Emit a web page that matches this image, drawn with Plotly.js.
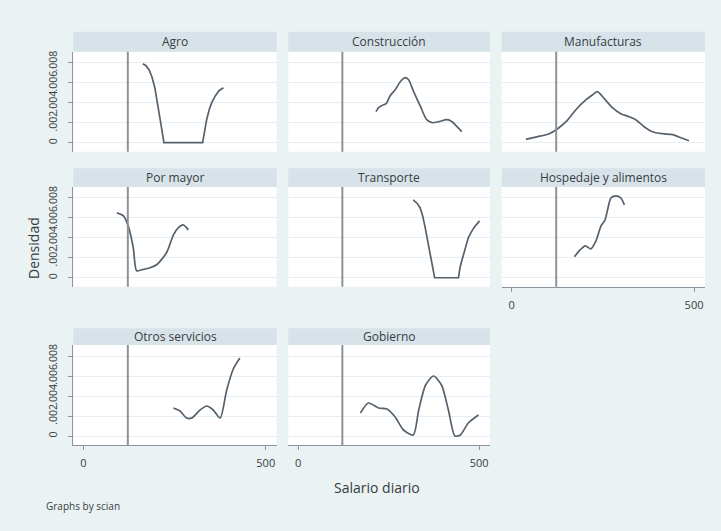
<!DOCTYPE html>
<html><head><meta charset="utf-8">
<script src="https://cdn.plot.ly/plotly-3.0.1.min.js"></script>
<style>html,body{margin:0;padding:0;background:#eaf2f3}</style>
</head><body><div id="chart" style="width:721px;height:531px"></div>
<script>
// ---- data ----
const sectors = ['Agro','Construcción','Manufacturas','Por mayor','Transporte','Hospedaje y alimentos','Otros servicios','Gobierno'];

const agroX = [163,172,180,188,196,205,213,220,221,327,331,338,345,352,362,372,384];
const agroY = [0.0079,0.0077,0.0073,0.0066,0.0055,0.0037,0.0018,0.0002,0,0,0.0009,0.0023,0.0033,0.0040,0.0047,0.0052,0.0055];

const construccionX = [215,222,230,243,254,268,282,296,305,319,338,355,370,388,411,425,439,452];
const construccionY = [0.0031,0.0035,0.0037,0.0039,0.0047,0.0053,0.0061,0.0065,0.0063,0.0051,0.0036,0.0023,0.0020,0.0021,0.0023,0.0021,0.0016,0.0011];

const manufacturasX = [39,71,103,126,149,176,204,222,235,254,276,299,322,340,363,386,413,441,464,486];
const manufacturasY = [0.00034,0.0006,0.0009,0.0014,0.0021,0.0033,0.0043,0.0048,0.0051,0.0044,0.0035,0.0029,0.0026,0.0023,0.0016,0.0011,0.0009,0.0008,0.0005,0.0002];

const porMayorX = [92,110,123,137,146,160,183,201,228,247,260,274,288];
const porMayorY = [0.0065,0.0062,0.0052,0.0030,0.0007,0.0008,0.0010,0.0013,0.0025,0.0043,0.0050,0.0053,0.0048];

const transporteX = [318,330,337,344,351,358,364,371,377,443,447,452,457,463,470,477,485,501];
const transporteY = [0.0078,0.0074,0.0070,0.0062,0.0050,0.0036,0.0023,0.0010,0,0,0.0010,0.0017,0.0024,0.0032,0.0040,0.0045,0.0050,0.0057];

const hospedajeX = [172,185,202,217,231,245,256,264,272,286,299,309];
const hospedajeY = [0.0021,0.0027,0.0032,0.0029,0.0037,0.0052,0.0058,0.0070,0.0080,0.0082,0.0080,0.0073];

const otrosX = [247,265,283,297,320,338,356,375,393,411,429];
const otrosY = [0.0028,0.0025,0.0018,0.0018,0.0026,0.0030,0.0026,0.0018,0.0046,0.0067,0.0078];

const gobiernoX = [172,194,222,245,268,291,318,333,352,374,396,415,433,448,470,498];
const gobiernoY = [0.0023,0.0033,0.0028,0.0027,0.0019,0.0006,0.0001,0.0026,0.0051,0.0060,0.0051,0.0026,0.0000,0.0001,0.0013,0.0021];

const seriesX = [agroX,construccionX,manufacturasX,porMayorX,transporteX,hospedajeX,otrosX,gobiernoX];
const seriesY = [agroY,construccionY,manufacturasY,porMayorY,transporteY,hospedajeY,otrosY,gobiernoY];
const lineShapes = ['linear','spline','spline','spline','linear','spline','spline','spline'];

const yTickVals = [0,0.002,0.004,0.006,0.008];
const yTickText = ['0','.002','.004','.006','.008'];
const xTickVals = [0,500];
const xTickText = ['0','500'];
const refWage = 122;
const xTitle = 'Salario diario';
const yTitle = 'Densidad';
const noteText = 'Graphs by scian';

// ---- layout geometry ----
const W = 721, H = 531;
const colsPx = [[73.3,276.7],[288.3,490],[501.7,705]];
const rowsPx = [{strip:31.7,top:51.7,bottom:151.7},{strip:168.3,top:187,bottom:286.7},{strip:328.3,top:345,bottom:445}];
const bottomPanels = [5,6,7];

const txtColor = '#383c41';
const font = {family:'Open Sans, DejaVu Sans, sans-serif', color: txtColor};

const traces = [];
const layout = {
  width: W, height: H,
  margin: {l:0,r:0,t:0,b:0},
  paper_bgcolor: '#eaf2f3',
  plot_bgcolor: '#ffffff',
  showlegend: false,
  font: font,
  shapes: [],
  annotations: []
};

sectors.forEach((name, i) => {
  const c = i % 3, r = Math.floor(i / 3);
  const sfx = i === 0 ? '' : String(i + 1);
  const xa = 'xaxis' + sfx, ya = 'yaxis' + sfx;
  const xr = 'x' + sfx, yr = 'y' + sfx;
  const [l, rt] = colsPx[c];
  const row = rowsPx[r];
  const isBottom = bottomPanels.includes(i);
  const isLeft = c === 0;

  layout[xa] = {
    domain: [l / W, rt / W],
    range: [-27.4, 530],
    anchor: yr,
    showgrid: false, zeroline: false,
    showline: isBottom, linecolor: '#8c959b', linewidth: 1,
    ticks: isBottom ? 'outside' : '', ticklen: 4, tickcolor: '#8c959b',
    tickvals: xTickVals, ticktext: xTickText,
    showticklabels: isBottom,
    tickfont: {size: 11, color: txtColor, family: font.family},
    ticklabelstandoff: 4,
    fixedrange: true
  };
  layout[ya] = {
    domain: [1 - row.bottom / H, 1 - row.top / H],
    range: [-0.0009, 0.0091],
    anchor: xr,
    showgrid: true, gridcolor: '#e6eef1', gridwidth: 1,
    zeroline: false,
    showline: isLeft, linecolor: '#8c959b', linewidth: 1,
    ticks: isLeft ? 'outside' : '', ticklen: 4, tickcolor: '#8c959b',
    tickvals: yTickVals, ticktext: yTickText,
    showticklabels: isLeft,
    tickangle: -90,
    tickfont: {size: 10.5, color: txtColor, family: font.family},
    ticklabelstandoff: 7,
    fixedrange: true
  };

  // strip background
  layout.shapes.push({type:'rect', xref:'paper', yref:'paper',
    x0: l / W, x1: rt / W, y0: 1 - row.top / H, y1: 1 - row.strip / H,
    fillcolor: '#d7e3e9', line: {width: 0}, layer: 'below'});
  layout.annotations.push({xref:'paper', yref:'paper',
    x: (l + rt) / 2 / W, y: 1 - (row.strip + row.top) / 2 / H,
    text: name, showarrow: false, xanchor: 'center', yanchor: 'middle',
    font: {size: 12, color: txtColor, family: font.family}});

  // reference line
  layout.shapes.push({type:'line', xref: xr, yref: yr + ' domain',
    x0: refWage, x1: refWage, y0: 0, y1: 1,
    line: {color: '#8d9398', width: 2}, layer: 'above'});

  traces.push({type:'scatter', mode:'lines', x: seriesX[i], y: seriesY[i],
    xaxis: xr, yaxis: yr,
    line: {color: '#56616c', width: 1.7, shape: lineShapes[i], smoothing: 0.7},
    hoverinfo: 'skip'});
});

layout.annotations.push({xref:'paper', yref:'paper', x: 377 / W, y: 1 - 487 / H,
  text: xTitle, showarrow: false, xanchor: 'center', yanchor: 'middle',
  font: {size: 14, color: txtColor, family: font.family}});
layout.annotations.push({xref:'paper', yref:'paper', x: 33 / W, y: 1 - 248 / H,
  text: yTitle, showarrow: false, xanchor: 'center', yanchor: 'middle', textangle: -90,
  font: {size: 14, color: txtColor, family: font.family}});
layout.annotations.push({xref:'paper', yref:'paper', x: 44 / W, y: 1 - 506 / H,
  text: noteText, showarrow: false, xanchor: 'left', yanchor: 'middle',
  font: {size: 10, color: txtColor, family: font.family}});

Plotly.newPlot('chart', traces, layout, {staticPlot: true, displayModeBar: false});
</script>
</body></html>
